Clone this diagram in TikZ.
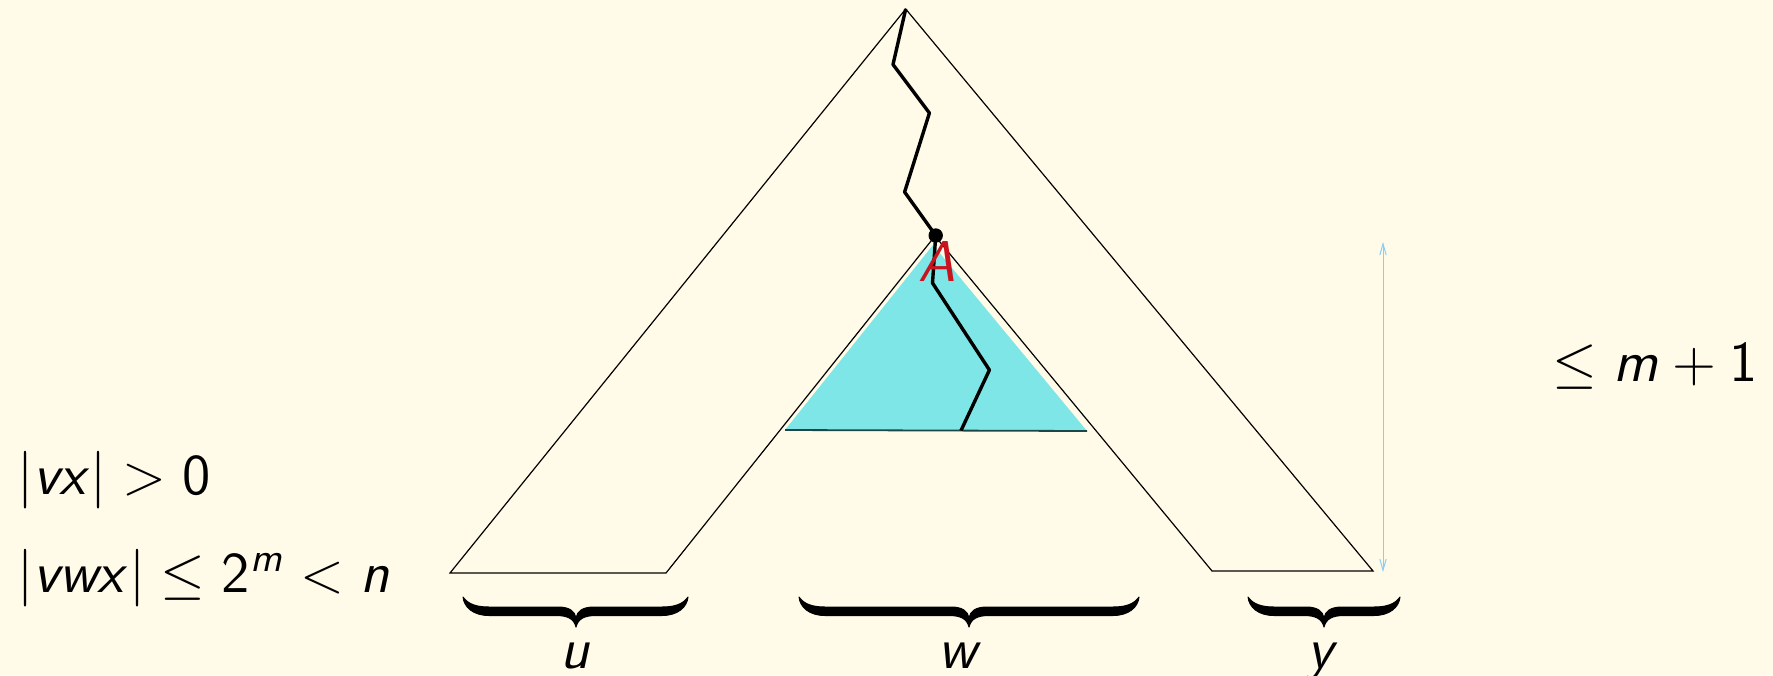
\documentclass[tikz,border=0pt]{standalone}
\usepackage{amsmath}
\usetikzlibrary{arrows.meta}
\DeclareMathAlphabet{\mathsfit}{OT1}{cmss}{m}{sl}
\definecolor{bgcream}{RGB}{255,251,232}
\definecolor{treecyan}{RGB}{126,230,230}
\definecolor{labelred}{RGB}{200,20,30}
\definecolor{arrowblue}{RGB}{135,206,250}
\definecolor{baseteal}{RGB}{30,70,70}
\tikzset{
  outline/.style={draw=black,line width=0.3pt,line join=miter},
  pathline/.style={draw=black,line width=0.85pt,line join=round},
  bracefill/.style={fill=black,draw=black,line width=0.25pt,line join=round},
  txt/.style={font=\fontsize{14.4}{17}\selectfont,inner sep=0pt},
}
% #1 left end x, #2 middle x, #3 right end x  (pixel units)
\newcommand\tbrace[3]{%
  \path[bracefill]
    (#1,597) .. controls ({#1+5},604) and ({#1+13},607) .. ({#1+26},607)
    -- ({#2-18},607) .. controls ({#2-7},607) and ({#2-1},611) .. (#2,618)
    .. controls ({#2+1},611) and ({#2+7},607) .. ({#2+18},607)
    -- ({#3-26},607) .. controls ({#3-13},607) and ({#3-5},604) .. (#3,597)
    .. controls ({#3-1},607) and ({#3-10},615.5) .. ({#3-26},615.5)
    -- ({#2+20},615.5) .. controls ({#2+8},615.5) and ({#2+2},619) .. (#2,627)
    .. controls ({#2-2},619) and ({#2-8},615.5) .. ({#2-20},615.5)
    -- ({#1+26},615.5) .. controls ({#1+10},615.5) and ({#1+1},607) .. (#1,597) -- cycle;}
\begin{document}
\begin{tikzpicture}[x=0.25pt,y=-0.25pt]
\fill[bgcream] (0,0) rectangle (1773,675);
\useasboundingbox (0,0) rectangle (1773,675);

% corners of the tree outline
\coordinate (top) at (905.7,9);
\coordinate (LL) at (450,573);
\coordinate (LI) at (666,573);
\coordinate (RI) at (1212,571);
\coordinate (RR) at (1373,571);
\coordinate (IA) at (935,236);

% subtree
\coordinate (cT) at (933,245);
\coordinate (cL) at (785,430);
\coordinate (cR) at (1087,431);
\fill[treecyan] (cT) -- (cL) -- (cR) -- cycle;
\draw[draw=baseteal,line width=0.45pt] (cL) -- (cR);

\draw[outline] (LL) -- (top) -- (RR) -- (RI) -- (IA) -- (LI) -- cycle;

% path
\coordinate (z1) at (893,64.5);
\coordinate (z2) at (929.4,113);
\coordinate (z3) at (904.6,192);
\node[circle,fill=black,inner sep=0pt,minimum size=3.6pt] (A) at (935.7,235.5) {};
\coordinate (z5) at (932.5,283);
\coordinate (z6) at (989.4,370);
\coordinate (z7) at (961,430.5);
\draw[pathline] (top) -- (z1) -- (z2) -- (z3) -- (A.center) -- (z5) -- (z6) -- (z7);
\node[txt,text=labelred] (Alabel) at (937,261) {$\mathsfit{A}$};

% height arrow
\coordinate (hT) at (1383,242);
\coordinate (hB) at (1383,572);
\draw[draw=arrowblue,line width=0.25pt,{Straight Barb[length=2.8pt,width=1.6pt]}-{Straight Barb[length=2.8pt,width=1.6pt]}] (hT) -- (hB);
\node[txt,anchor=base east] (hlabel) at (1758,381) {$\leq \mathsfit{m} + \mathsf{1}$};

% left statements
\node[txt,anchor=base west] (s1) at (17,494) {$|\mathsfit{vx}| > \mathsf{0}$};
\node[txt,anchor=base west] (s2) at (17,592) {$|\mathsfit{vwx}| \leq \mathsf{2}^{\mathsfit{m}} < \mathsfit{n}$};

% braces
\tbrace{463}{576}{688}
\tbrace{799}{969}{1139}
\tbrace{1248}{1324}{1400}
\node[txt,anchor=base] (lu) at (576,668) {$\mathsfit{u}$};
\node[txt,anchor=base] (lw) at (961,668) {$\mathsfit{w}$};
\node[txt,anchor=base] (ly) at (1323,668) {$\mathsfit{y}$};
\end{tikzpicture}
\end{document}
